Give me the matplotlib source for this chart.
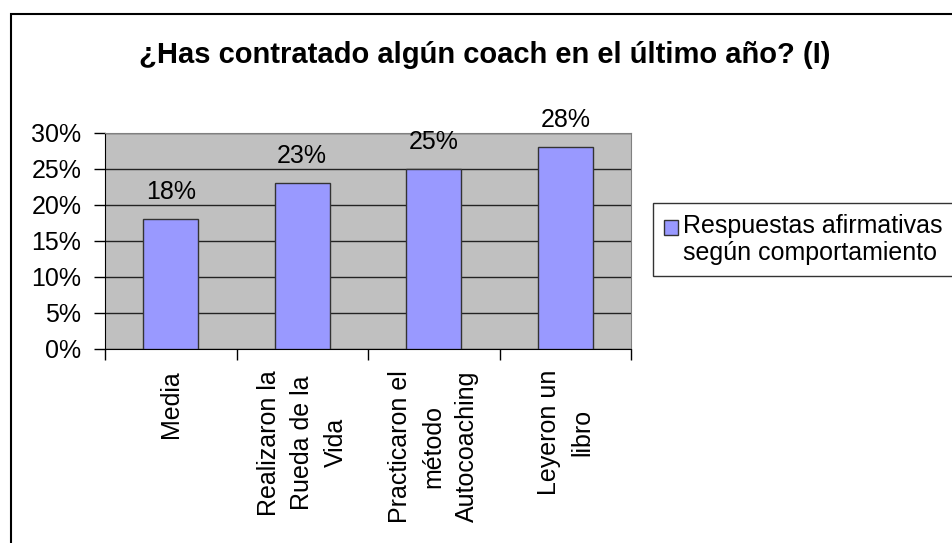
import matplotlib
matplotlib.use("Agg")
import matplotlib.pyplot as plt
from matplotlib.ticker import FixedLocator, PercentFormatter
from matplotlib.patches import Rectangle
from matplotlib.legend_handler import HandlerPatch

plt.rcParams['font.family'] = ['Liberation Sans', 'DejaVu Sans']

title = "¿Has contratado algún coach en el último año? (I)"
categories = ["Media", "Realizaron la\nRueda de la\nVida", "Practicaron el\nmétodo\nAutocoaching", "Leyeron un\nlibro"]
values = [18, 23, 25, 28]
series_name = "Respuestas afirmativas\nsegún comportamiento"
yticks = [0, 5, 10, 15, 20, 25, 30]

W, H = 952, 543
FS = 18
fig = plt.figure(figsize=(W/100, H/100), dpi=100)
fig.patch.set_facecolor('white')

# outer chart frame
fig.add_artist(Rectangle((11/W, -0.1), 1.2, (H-14)/H + 0.1, transform=fig.transFigure,
                         fill=False, edgecolor='black', linewidth=1.5))

ax = fig.add_axes([105/W, 1-349/H, (631-105)/W, (349-133)/H])
ax.set_facecolor('#C0C0C0')
x = list(range(len(categories)))
bars = ax.bar(x, values, width=0.42, color='#9999FF', edgecolor='#333333', linewidth=1, zorder=3)
ax.set_xlim(-0.5, len(categories) - 0.5)
ax.set_ylim(0, 30)
ax.set_yticks(yticks)
ax.yaxis.set_major_formatter(PercentFormatter(decimals=0))
ax.yaxis.grid(True, color='#222222', linewidth=1)
ax.set_axisbelow(True)
ax.tick_params(axis='y', direction='out', length=8, width=1, labelsize=FS, pad=9)

ax.set_xticks(x)
ax.set_xticklabels(categories, rotation=90, fontsize=FS, multialignment='center', linespacing=1.5)
ax.tick_params(axis='x', which='major', length=0, pad=15)
ax.xaxis.set_minor_locator(FixedLocator([i - 0.5 for i in range(len(categories) + 1)]))
ax.tick_params(axis='x', which='minor', direction='out', length=8, width=1)

for s in ['top', 'right']:
    ax.spines[s].set_color('#808080')
ax.spines['left'].set_color('black')
ax.spines['bottom'].set_color('black')

for b, v in zip(bars, values):
    ax.annotate(f"{v}%", (b.get_x() + b.get_width()/2, v), xytext=(0, 14.5),
                textcoords='offset points', ha='center', va='baseline', fontsize=FS)

fig.text(485/W, 1-55/H, title, ha='center', va='center', fontsize=21, fontweight='bold')


def top_patch(legend, orig_handle, xdescent, ydescent, width, height, fontsize):
    return Rectangle((-xdescent, -ydescent + 9.5), width, height)


leg = fig.legend([bars[0]], [series_name], loc='upper left', bbox_to_anchor=(653/W, 1-203/H),
                 fontsize=FS, frameon=True, fancybox=False, edgecolor='black',
                 handlelength=0.55, handleheight=0.55, handletextpad=0.2, borderpad=0.45,
                 borderaxespad=0, handler_map={bars[0]: HandlerPatch(patch_func=top_patch)})
leg.get_frame().set_linewidth(1)
leg.get_texts()[0].set_linespacing(1.15)
leg.get_texts()[0].set_multialignment('left')

fig.savefig('out.png', dpi=100)
